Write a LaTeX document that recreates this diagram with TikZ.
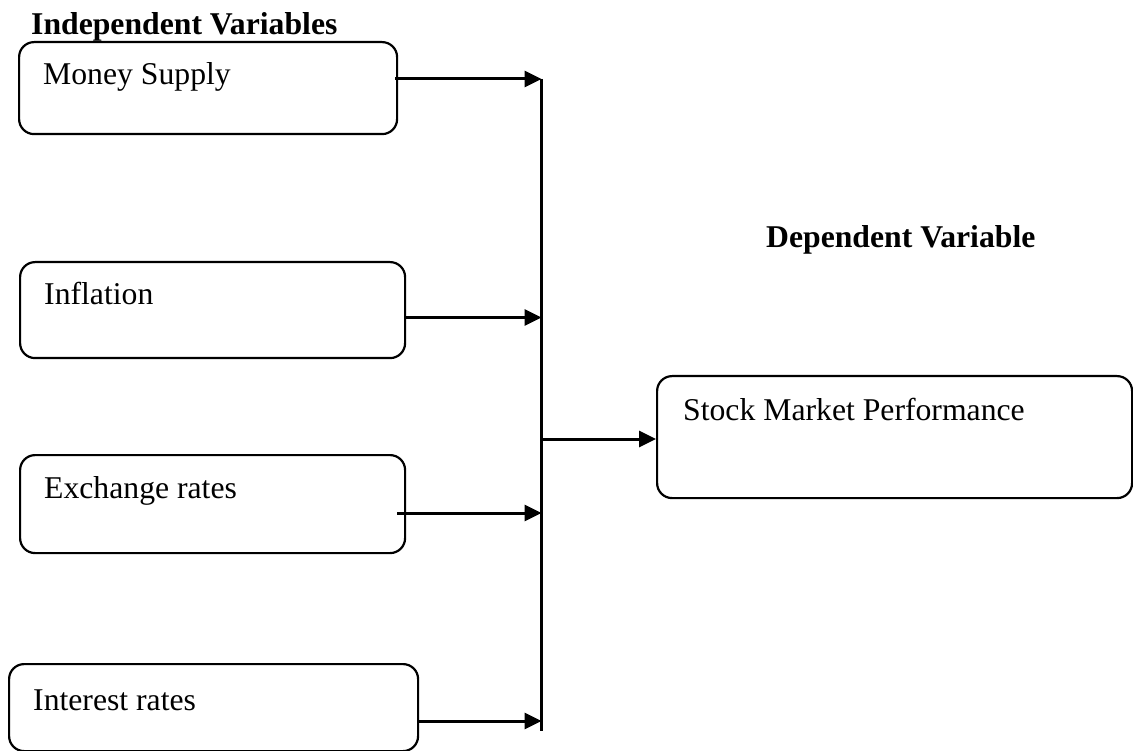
\documentclass[tikz,border=0pt]{standalone}
\usepackage{fontspec}
\setmainfont{Liberation Serif}
\usetikzlibrary{arrows.meta,calc}
\begin{document}
\begin{tikzpicture}[x=1pt,y=-1pt,
  vbox/.style={draw, line width=2.2pt, rounded corners=15pt, anchor=north west, inner sep=0pt},
  lbl/.style={anchor=base west, inner sep=0pt, font=\fontsize{31.7}{38}\selectfont},
  hdr/.style={anchor=base west, inner sep=0pt, font=\fontsize{31.7}{38}\selectfont\bfseries},
  conn/.style={line width=3pt, -{Triangle[length=17pt,width=16pt]}},
  bus/.style={line width=2.2pt},
]
\useasboundingbox (0,0) rectangle (1133,751);

% headings
\node[hdr] (hind) at (31,35) {Independent Variables};
\node[hdr] (hdep) at (766,248) {Dependent Variable};

% boxes
\node[vbox, minimum width=378pt, minimum height=92pt] (ms) at (18,41) {};
\node[vbox, minimum width=385pt, minimum height=96pt] (inf) at (19,261) {};
\node[vbox, minimum width=385pt, minimum height=98pt] (ex) at (19,454) {};
\node[vbox, minimum width=409pt, minimum height=87pt] (ir) at (8,663) {};
\node[vbox, minimum width=475pt, minimum height=122pt] (st) at (656,375) {};

% labels
\node[lbl] (tms) at (43,85) {Money Supply};
\node[lbl] (tinf) at (44,305) {Inflation};
\node[lbl] (tex) at (44,498) {Exchange rates};
\node[lbl] (tir) at (33,710) {Interest rates};
\node[lbl] (tst) at (683,420) {Stock Market Performance};

% bus line and junctions
\coordinate (vtop) at (541.5,79);
\coordinate (vbot) at (541.5,731);
\coordinate (j2) at (541.5,317.5);
\coordinate (j3) at (541.5,513);
\coordinate (j4) at (541.5,721);
\coordinate (j5) at (541.5,439);
\draw[bus] (vtop) -- (vbot);

% connectors
\draw[conn] ([xshift=-3pt]ms.east |- vtop) -- (vtop);
\draw[conn] (inf.east |- j2) -- (j2);
\draw[conn] ([xshift=-9pt]ex.east |- j3) -- (j3);
\draw[conn] (ir.east |- j4) -- (j4);
\draw[conn] (j5) -- (st.west |- j5);
\end{tikzpicture}
\end{document}
